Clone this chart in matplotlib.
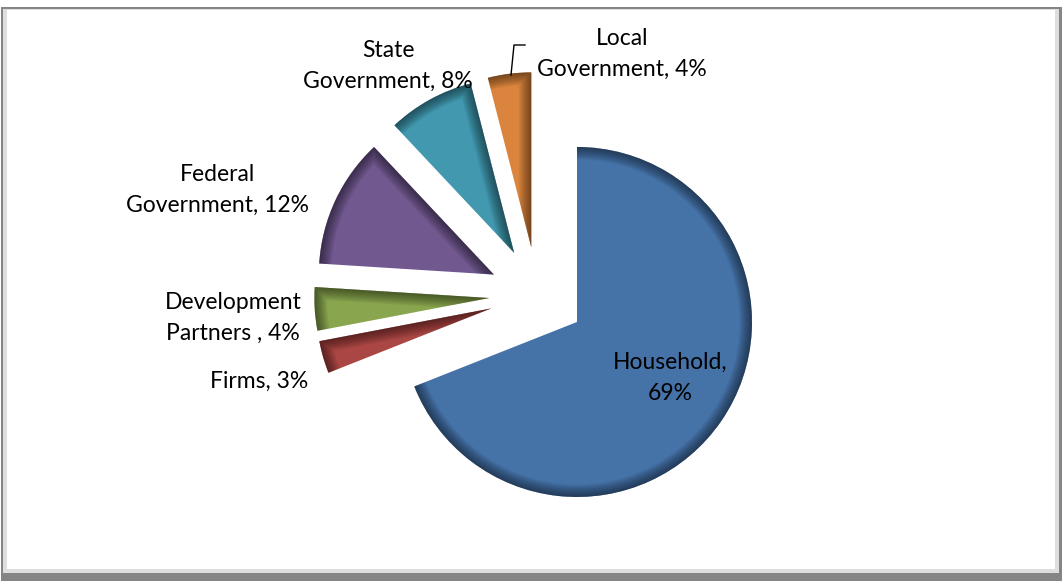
import numpy as np
import matplotlib
matplotlib.use("Agg")
import matplotlib.pyplot as plt
from matplotlib.patches import Rectangle
from matplotlib.path import Path
from matplotlib.patches import PathPatch

W, H = 1062, 581

# data
categories = ["Household", "Firms", "Development Partners ", "Federal Government",
              "State Government", "Local Government"]
shares = [69, 3, 4, 12, 8, 4]
labels = ["Household,\n69%", "Firms, 3%", "Development\nPartners , 4%",
          "Federal\nGovernment, 12%", "State\nGovernment, 8%", "Local\nGovernment, 4%"]
colors = ["#4572A7", "#AA4643", "#89A54E", "#71588F", "#4198AF", "#DB843D"]

# label placement (pixel coords of text centres)
label_pos = [(670, 378), (259, 381), (233, 318), (217, 190), (388, 66), (622, 54)]

plt.rcParams['font.family'] = ['Lato', 'DejaVu Sans']

fig = plt.figure(figsize=(W / 100, H / 100), dpi=100)
ax = fig.add_axes([0, 0, 1, 1])


def py(y):
    # pixel row -> data y
    return H - y


# frame with bevel
ax.add_patch(Rectangle((1, py(581)), 1061, 574, facecolor="#858585", edgecolor="none"))
ax.add_patch(Rectangle((3, py(573)), 1056, 564, facecolor="#dedede", edgecolor="none"))
ax.add_patch(Rectangle((7, py(569)), 1048, 559, facecolor="white", edgecolor="none"))

radius = 175
wedges, _ = ax.pie(shares, explode=[48] * len(shares), startangle=90,
                   counterclock=False, colors=colors, center=(537.3, py(295)),
                   radius=radius, wedgeprops=dict(linewidth=0))

# soft inner shadow along the outer arc (and leading edge of the small slices)
for i, w in enumerate(wedges):
    cx, cy = w.center
    t = np.radians(np.linspace(w.theta1, w.theta2, 300))
    xs = cx + w.r * np.cos(t)
    ys = cy + w.r * np.sin(t)
    if i > 0:
        xs = np.concatenate([[cx], xs])
        ys = np.concatenate([[cy], ys])
    path = Path(np.column_stack([xs, ys]))
    for lw in np.linspace(18, 1, 14):
        pp = PathPatch(path, fill=False, edgecolor="black", linewidth=lw,
                       alpha=0.04, capstyle="butt", joinstyle="miter")
        ax.add_patch(pp)
        pp.set_clip_path(w)

for lab, (x, y) in zip(labels, label_pos):
    ax.text(x, py(y), lab, ha="center", va="center", fontsize=16.5,
            color="black", linespacing=1.55)

# leader line for the local government label
ax.plot([511, 514, 525], [py(75), py(45), py(45)], color="black", linewidth=1)

ax.set_xlim(0, W)
ax.set_ylim(0, H)
ax.set_aspect("equal", adjustable="box")
ax.axis("off")

fig.savefig("out.png", dpi=100)
